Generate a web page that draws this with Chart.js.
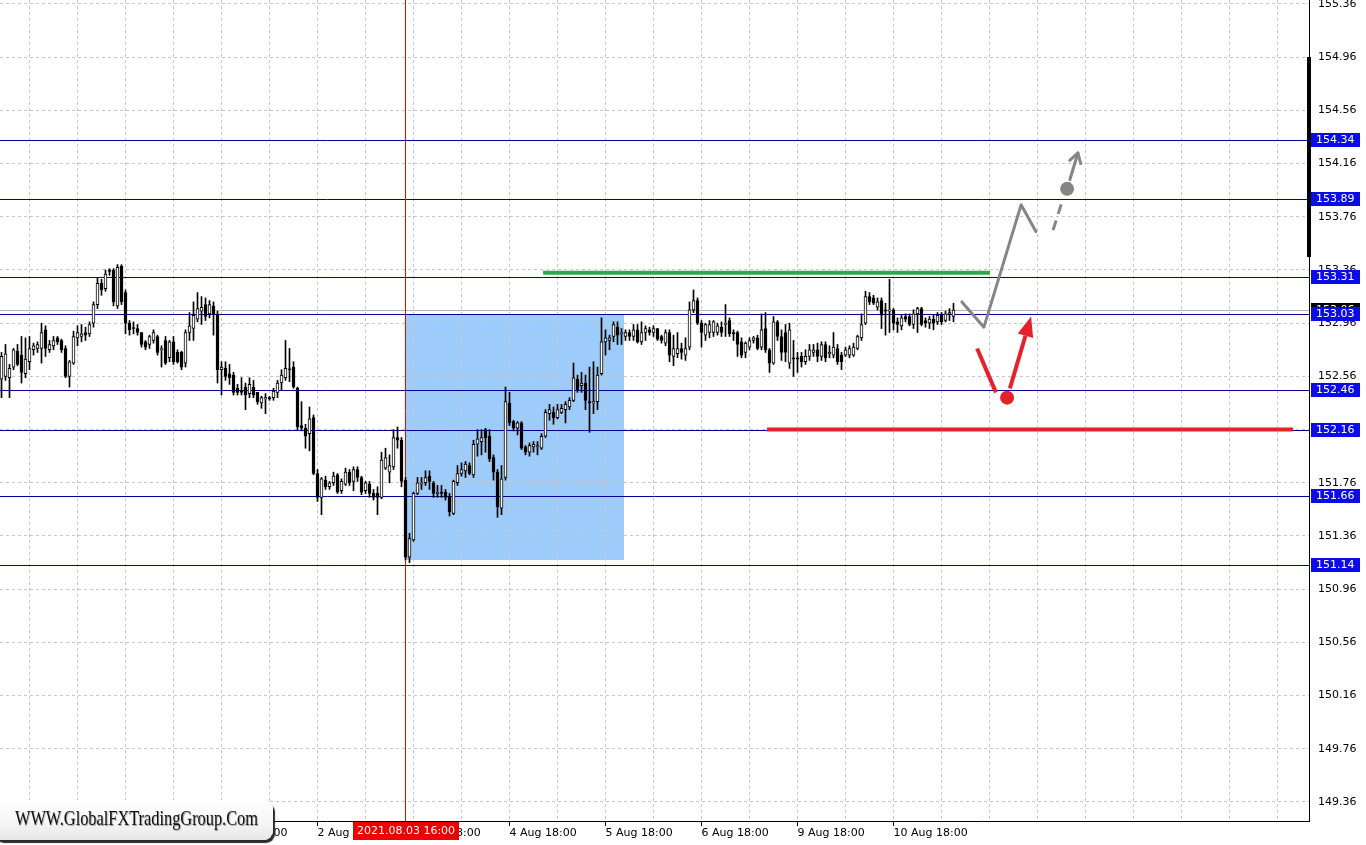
<!DOCTYPE html>
<html>
<head>
<meta charset="utf-8">
<script src="https://cdn.jsdelivr.net/npm/chart.js@4.4.1/dist/chart.umd.min.js"></script>
<style>
html,body{margin:0;padding:0;background:#fff;overflow:hidden}
#wrap{position:relative;width:1366px;height:845px}
#c{display:block}
#wm{position:absolute;left:-7px;top:800px;width:280px;height:40px;border-radius:9px;
 background:linear-gradient(to bottom,#ffffff 0%,#f7f7f7 55%,#e6e6e6 100%);
 box-shadow:2px 3px 1px #2a2a2a;overflow:hidden}
#wmt{position:absolute;left:22px;top:5px;font-family:'Liberation Serif','DejaVu Serif',serif;font-size:21px;
 line-height:26px;color:#111;white-space:nowrap;transform-origin:0 50%;text-shadow:1px 1px 1px #9a9a9a}
</style>
</head>
<body>
<div id="wrap">
<canvas id="c" width="1366" height="845"></canvas>
<div id="wm"><span id="wmt">WWW.GlobalFXTradingGroup.Com</span></div>
</div>
<script>
// ---------- data (H1 candles) ----------
const opens = [152.54,152.56,152.55,152.63,152.75,152.72,152.58,152.67,152.76,152.77,152.77,152.91,152.76,152.79,152.85,152.83,152.77,152.56,152.66,152.85,
152.86,152.89,152.88,152.96,153.10,153.26,153.22,153.35,153.36,153.09,153.39,153.19,152.96,152.92,152.92,152.89,152.82,152.80,152.83,152.86,
152.76,152.83,152.70,152.82,152.74,152.74,152.66,152.89,152.92,152.99,153.05,153.10,153.03,153.09,153.03,152.61,152.62,152.58,152.57,152.47,
152.45,152.48,152.43,152.48,152.44,152.36,152.39,152.40,152.40,152.44,152.51,152.55,152.61,152.63,152.47,152.19,152.17,152.13,152.25,151.83,
151.65,151.78,151.73,151.76,151.82,151.70,151.75,151.84,151.77,151.86,151.80,151.70,151.75,151.68,151.68,151.65,151.87,151.84,151.88,152.10,
152.08,151.78,151.20,151.33,151.68,151.75,151.76,151.81,151.76,151.68,151.69,151.69,151.66,151.53,151.76,151.83,151.85,151.89,151.82,152.05,
152.07,152.16,152.11,151.95,151.84,151.57,151.80,152.36,152.22,152.17,152.21,152.03,151.99,152.03,152.03,152.02,152.11,152.28,152.29,152.25,
152.29,152.31,152.33,152.38,152.54,152.49,152.51,152.37,152.36,152.37,152.58,152.82,152.83,152.86,152.93,152.88,152.86,152.89,152.86,152.91,
152.82,152.89,152.91,152.89,152.92,152.86,152.81,152.89,152.71,152.73,152.77,152.72,152.78,153.06,153.13,152.96,152.87,152.89,152.89,152.89,
152.93,152.95,152.98,152.89,152.89,152.82,152.74,152.78,152.83,152.85,152.78,152.92,152.76,152.66,152.97,152.86,152.89,152.66,152.70,152.70,
152.71,152.67,152.71,152.74,152.76,152.71,152.80,152.73,152.72,152.77,152.72,152.72,152.72,152.72,152.77,152.85,152.96,153.16,153.15,153.08,
153.13,153.06,153.05,153.06,152.97,152.94,153.01,153.01,152.95,153.03,153.07,152.98,152.96,152.99,152.97,153.02,152.98,153.03,153.01];
const highs = [152.74,152.80,152.65,152.77,152.80,152.86,152.85,152.86,152.81,152.82,152.96,152.94,152.83,152.86,152.86,152.84,152.79,152.68,152.90,152.94,
152.95,152.93,152.97,153.12,153.30,153.29,153.36,153.37,153.37,153.40,153.40,153.21,152.98,152.97,152.95,152.89,152.83,152.87,152.91,152.87,
152.79,152.86,152.83,152.86,152.76,152.75,152.91,153.04,153.12,153.19,153.16,153.15,153.13,153.12,153.05,152.67,152.67,152.65,152.59,152.50,
152.55,152.51,152.55,152.53,152.44,152.41,152.43,152.41,152.47,152.53,152.61,152.83,152.77,152.67,152.48,152.37,152.20,152.33,152.27,151.86,
151.80,151.81,151.77,151.84,151.83,151.79,151.87,151.86,151.88,151.88,151.81,151.77,151.77,151.71,151.73,151.99,152.02,151.97,152.16,152.18,
152.10,151.80,151.38,151.69,151.80,151.80,151.85,151.85,151.77,151.74,151.74,151.71,151.68,151.78,151.89,151.91,151.92,151.91,152.08,152.16,
152.16,152.17,152.16,151.97,151.86,151.89,152.48,152.44,152.23,152.22,152.22,152.04,152.06,152.07,152.07,152.13,152.31,152.35,152.33,152.35,
152.35,152.37,152.40,152.66,152.57,152.59,152.57,152.63,152.67,152.63,153.00,152.91,152.87,152.97,152.97,152.92,152.91,152.91,152.95,152.95,
152.97,152.94,152.93,152.94,152.92,152.87,152.91,152.91,152.87,152.89,152.81,152.85,153.12,153.21,153.15,152.98,152.96,152.98,152.98,152.96,
152.97,153.10,153.00,152.91,152.90,152.85,152.82,152.85,152.86,152.87,153.03,153.04,152.77,153.01,152.98,152.91,152.95,152.96,152.83,152.74,
152.74,152.76,152.80,152.80,152.81,152.82,152.82,152.79,152.89,152.80,152.74,152.78,152.79,152.81,152.87,153.03,153.20,153.19,153.17,153.15,
153.15,153.11,153.29,153.07,153.00,153.02,153.03,153.03,153.06,153.08,153.08,153.00,153.01,153.02,153.04,153.04,153.05,153.07,153.11];
const lows = [152.40,152.53,152.40,152.61,152.64,152.51,152.55,152.61,152.72,152.74,152.66,152.71,152.74,152.76,152.80,152.74,152.55,152.48,152.65,152.79,
152.82,152.83,152.86,152.93,153.07,153.17,153.20,153.32,153.09,153.07,153.10,152.88,152.87,152.88,152.87,152.78,152.76,152.77,152.81,152.72,
152.63,152.65,152.67,152.65,152.66,152.61,152.63,152.83,152.83,152.97,152.95,152.98,153.00,152.87,152.51,152.42,152.53,152.50,152.42,152.42,
152.42,152.31,152.40,152.40,152.35,152.32,152.28,152.38,152.38,152.40,152.46,152.53,152.52,152.47,152.16,152.15,152.02,152.00,151.82,151.62,
151.52,151.71,151.71,151.74,151.68,151.68,151.74,151.74,151.70,151.77,151.67,151.68,151.65,151.63,151.52,151.64,151.86,151.76,151.86,152.02,
151.73,151.18,151.16,151.32,151.67,151.71,151.74,151.71,151.65,151.65,151.65,151.63,151.51,151.52,151.74,151.81,151.80,151.82,151.80,151.96,
151.97,151.99,151.92,151.78,151.50,151.52,151.78,152.19,152.15,152.12,152.01,151.97,151.96,151.99,151.97,152.01,152.10,152.23,152.20,152.24,
152.28,152.21,152.31,152.37,152.44,152.44,152.31,152.14,152.28,152.31,152.57,152.72,152.76,152.82,152.80,152.80,152.83,152.83,152.83,152.81,
152.80,152.83,152.87,152.86,152.83,152.81,152.79,152.67,152.64,152.70,152.69,152.68,152.76,153.04,152.95,152.78,152.83,152.85,152.86,152.87,
152.86,152.86,152.86,152.83,152.71,152.70,152.70,152.76,152.81,152.76,152.76,152.74,152.59,152.65,152.83,152.68,152.67,152.62,152.56,152.59,
152.63,152.65,152.68,152.71,152.67,152.68,152.67,152.70,152.70,152.65,152.61,152.71,152.70,152.71,152.76,152.83,152.95,153.10,153.10,153.06,
152.92,152.87,152.89,152.91,152.89,152.91,152.97,152.94,152.92,152.89,152.94,152.93,152.92,152.91,152.95,152.95,152.97,152.98,152.97];
const closes = [152.71,152.73,152.62,152.76,152.65,152.59,152.69,152.77,152.79,152.80,152.89,152.77,152.80,152.83,152.82,152.76,152.56,152.67,152.86,152.89,
152.88,152.87,152.95,153.10,153.26,153.21,153.33,153.35,153.12,153.38,153.12,152.96,152.91,152.92,152.89,152.80,152.78,152.86,152.89,152.74,
152.77,152.66,152.82,152.67,152.67,152.63,152.89,152.94,153.02,153.07,153.08,153.01,153.10,153.03,152.61,152.63,152.56,152.55,152.44,152.44,
152.44,152.42,152.50,152.42,152.37,152.40,152.40,152.39,152.45,152.51,152.57,152.62,152.61,152.48,152.18,152.17,152.11,152.24,151.83,151.65,
151.79,151.73,151.76,151.81,151.69,151.77,151.84,151.76,151.86,151.80,151.69,151.76,151.68,151.65,151.65,151.93,151.95,151.89,152.10,152.08,
151.77,151.20,151.34,151.68,151.76,151.76,151.80,151.77,151.68,151.69,151.68,151.65,151.54,151.77,151.83,151.86,151.90,151.83,152.05,152.09,
152.10,152.10,151.94,151.84,151.58,151.79,152.37,152.21,152.17,152.21,152.02,151.99,152.04,152.05,152.04,152.11,152.29,152.31,152.25,152.31,
152.32,152.35,152.38,152.55,152.46,152.51,152.38,152.36,152.37,152.57,152.82,152.85,152.85,152.95,152.87,152.89,152.89,152.86,152.91,152.82,
152.89,152.92,152.89,152.92,152.84,152.83,152.89,152.72,152.77,152.77,152.74,152.77,153.06,153.13,152.96,152.89,152.95,152.95,152.97,152.94,
152.89,152.96,152.88,152.88,152.80,152.72,152.81,152.83,152.85,152.77,152.91,152.76,152.66,152.97,152.86,152.74,152.74,152.91,152.69,152.69,
152.67,152.71,152.76,152.76,152.71,152.80,152.70,152.74,152.78,152.67,152.67,152.76,152.77,152.78,152.86,152.95,153.16,153.12,153.11,153.12,
153.02,153.05,153.06,152.96,152.95,153.00,152.99,152.95,153.03,153.07,152.95,152.96,152.99,152.96,153.02,152.97,153.03,153.04,153.06];

// ---------- axes ----------
const yTickValues = [149.36,149.76,150.16,150.56,150.96,151.36,151.76,152.16,152.56,152.96,153.36,153.76,154.16,154.56,154.96,155.36];
const xTickIndex  = [7,31,55,79,103,127,151,175,199,223];
const xTickLabels = ['28 Jul 18:00','29 Jul 18:00','30 Jul 18:00','2 Aug 18:00','3 Aug 18:00','4 Aug 18:00','5 Aug 18:00','6 Aug 18:00','9 Aug 18:00','10 Aug 18:00'];

// ---------- chart objects (bar index / price) ----------
const levels = [154.34,153.89,153.31,153.03,152.46,152.16,151.66,151.14];
const bidPrice = 153.06;
const markedTimeIndex = 101;
const markedTimeLabel = '2021.08.03 16:00';
const zoneTime  = [101, 155.6];
const zonePrice = [153.03, 151.18];
const greenLineTime = [135.4, 247.1], greenLinePrice = 153.34;
const redLineTime   = [191.4, 322.9], redLinePrice   = 152.16;
const greyPathTime  = [240.1, 245.6, 254.9, 258.6];
const greyPathPrice = [153.12, 152.93, 153.85, 153.65];
const greyDashTime  = [262.9, 265.3], greyDashPrice = [153.66, 153.89];
const greyDot = [266.4, 153.97];
const greyArrowTime = [267.1, 269.1], greyArrowPrice = [154.04, 154.24];
const redPathTime  = [243.9, 248.6], redPathPrice = [152.77, 152.44];
const redDot = [251.4, 152.40];
const redArrowTime = [252.1, 257.4], redArrowPrice = [152.47, 153.01];

// ---------- build ----------
const bodies = opens.map((o,i)=>({x:i, y:[Math.min(o,closes[i]), Math.max(o,closes[i])]}));
const wicks  = highs.map((h,i)=>({x:i, y:[Math.min(lows[i],opens[i],closes[i]), Math.max(h,opens[i],closes[i])]}));
const bodyFill = opens.map((o,i)=> closes[i] > o ? '#ffffff' : '#000000');
const gridIdx = []; for (let v = 7; v <= 326; v += 12) gridIdx.push(v);

Chart.defaults.font.family = "'DejaVu Sans', sans-serif";
Chart.defaults.font.size = 11;
Chart.defaults.color = '#000';

const FONT = "11px 'DejaVu Sans', sans-serif";

const decor = {
  id: 'decor',
  beforeDraw(chart) {
    const {ctx, scales:{x, y}} = chart;
    ctx.save();
    ctx.fillStyle = '#fff';
    ctx.fillRect(0, 0, chart.width, chart.height);
    const x0 = Math.round(x.getPixelForValue(zoneTime[0])), x1 = Math.round(x.getPixelForValue(zoneTime[1]));
    const y0 = Math.round(y.getPixelForValue(zonePrice[0])), y1 = Math.round(y.getPixelForValue(zonePrice[1]));
    ctx.fillStyle = '#9dcbfa';
    ctx.fillRect(x0, y0, x1 - x0, y1 - y0);
    ctx.restore();
  },
  beforeDatasetsDraw(chart) {
    const {ctx, chartArea:a, scales:{x, y}} = chart;
    ctx.save();
    ctx.strokeStyle = '#b4b4b4'; ctx.lineWidth = 1;
    let yb = Math.round(y.getPixelForValue(bidPrice)) + 0.5;
    ctx.beginPath(); ctx.moveTo(a.left, yb); ctx.lineTo(a.right, yb); ctx.stroke();
    ctx.strokeStyle = '#000096';
    levels.forEach(p => {
      const yy = Math.round(y.getPixelForValue(p)) + 0.5;
      ctx.beginPath(); ctx.moveTo(a.left, yy); ctx.lineTo(a.right, yy); ctx.stroke();
    });
    ctx.strokeStyle = '#ff0000';
    const xv = Math.round(x.getPixelForValue(markedTimeIndex)) - 0.5;
    ctx.beginPath(); ctx.moveTo(xv, a.top); ctx.lineTo(xv, a.bottom); ctx.stroke();
    ctx.lineWidth = 4; ctx.lineCap = 'butt';
    ctx.strokeStyle = '#2ea84c';
    let yy = y.getPixelForValue(greenLinePrice);
    ctx.beginPath(); ctx.moveTo(x.getPixelForValue(greenLineTime[0]), yy); ctx.lineTo(x.getPixelForValue(greenLineTime[1]), yy); ctx.stroke();
    ctx.strokeStyle = '#e5222b';
    yy = y.getPixelForValue(redLinePrice);
    ctx.beginPath(); ctx.moveTo(x.getPixelForValue(redLineTime[0]), yy); ctx.lineTo(x.getPixelForValue(redLineTime[1]), yy); ctx.stroke();
    ctx.restore();
  },
  afterDatasetsDraw(chart) {
    const {ctx, scales:{x, y}} = chart;
    const P = (t, p) => [x.getPixelForValue(t), y.getPixelForValue(p)];
    ctx.save();
    ctx.lineCap = 'round'; ctx.lineJoin = 'round';
    ctx.strokeStyle = '#858585'; ctx.fillStyle = '#858585'; ctx.lineWidth = 3;
    ctx.beginPath();
    greyPathTime.forEach((t,i) => { const [px,py] = P(t, greyPathPrice[i]); i ? ctx.lineTo(px,py) : ctx.moveTo(px,py); });
    ctx.stroke();
    ctx.setLineDash([10,7]); ctx.lineCap = 'butt';
    let a0 = P(greyDashTime[0], greyDashPrice[0]), a1 = P(greyDashTime[1], greyDashPrice[1]);
    ctx.beginPath(); ctx.moveTo(a0[0],a0[1]); ctx.lineTo(a1[0],a1[1]); ctx.stroke();
    ctx.setLineDash([]);
    let d = P(greyDot[0], greyDot[1]);
    ctx.beginPath(); ctx.arc(d[0], d[1], 7, 0, Math.PI*2); ctx.fill();
    let b0 = P(greyArrowTime[0], greyArrowPrice[0]), b1 = P(greyArrowTime[1], greyArrowPrice[1]);
    ctx.lineCap = 'round';
    ctx.beginPath(); ctx.moveTo(b0[0],b0[1]); ctx.lineTo(b1[0],b1[1]); ctx.stroke();
    let ang = Math.atan2(b1[1]-b0[1], b1[0]-b0[0]);
    ctx.beginPath();
    ctx.moveTo(b1[0]-11*Math.cos(ang-0.55), b1[1]-11*Math.sin(ang-0.55));
    ctx.lineTo(b1[0], b1[1]);
    ctx.lineTo(b1[0]-11*Math.cos(ang+0.55), b1[1]-11*Math.sin(ang+0.55));
    ctx.stroke();
    ctx.strokeStyle = '#e5222b'; ctx.fillStyle = '#e5222b'; ctx.lineWidth = 4; ctx.lineCap = 'butt';
    let r0 = P(redPathTime[0], redPathPrice[0]), r1 = P(redPathTime[1], redPathPrice[1]);
    ctx.beginPath(); ctx.moveTo(r0[0],r0[1]); ctx.lineTo(r1[0],r1[1]); ctx.stroke();
    d = P(redDot[0], redDot[1]);
    ctx.beginPath(); ctx.arc(d[0], d[1], 7, 0, Math.PI*2); ctx.fill();
    let s0 = P(redArrowTime[0], redArrowPrice[0]), s1 = P(redArrowTime[1], redArrowPrice[1]);
    ang = Math.atan2(s1[1]-s0[1], s1[0]-s0[0]);
    const hl = 20, hw = 8;
    const bx = s1[0]-hl*Math.cos(ang), by = s1[1]-hl*Math.sin(ang);
    ctx.beginPath(); ctx.moveTo(s0[0],s0[1]); ctx.lineTo(bx,by); ctx.stroke();
    ctx.beginPath();
    ctx.moveTo(s1[0], s1[1]);
    ctx.lineTo(bx + hw*Math.sin(ang), by - hw*Math.cos(ang));
    ctx.lineTo(bx - hw*Math.sin(ang), by + hw*Math.cos(ang));
    ctx.closePath(); ctx.fill();
    ctx.restore();
  },
  afterDraw(chart) {
    const {ctx, chartArea:a, scales:{x, y}} = chart;
    ctx.save();
    ctx.font = FONT; ctx.textBaseline = 'middle'; ctx.textAlign = 'left';
    ctx.fillStyle = '#000';
    ctx.fillRect(a.right - 2, 57, 4, 200);
    let yb = Math.round(y.getPixelForValue(bidPrice));
    ctx.fillStyle = '#000'; ctx.fillRect(a.right + 2, yb - 7, 49, 14);
    ctx.fillStyle = '#fff'; ctx.fillText(bidPrice.toFixed(2), a.right + 7, yb + 0.5);
    levels.forEach(p => {
      const yy = Math.round(y.getPixelForValue(p));
      ctx.fillStyle = '#0c0ce6'; ctx.fillRect(a.right + 2, yy - 7, 49, 14);
      ctx.fillStyle = '#fff'; ctx.fillText(p.toFixed(2), a.right + 7, yy + 0.5);
    });
    const xv = Math.round(x.getPixelForValue(markedTimeIndex));
    ctx.fillStyle = '#ee0000'; ctx.fillRect(xv - 53, a.bottom + 1, 106, 18);
    ctx.fillStyle = '#fff'; ctx.textAlign = 'center';
    ctx.fillText(markedTimeLabel, xv, a.bottom + 10.5);
    ctx.restore();
  }
};

new Chart(document.getElementById('c'), {
  type: 'bar',
  data: {
    datasets: [
      { label:'body', data: bodies, backgroundColor: bodyFill, borderColor:'#000', borderWidth:1,
        borderSkipped:false, barThickness:3, grouped:false, minBarLength:1, order:0 },
      { label:'wick', data: wicks, backgroundColor:'#000', borderWidth:0,
        barThickness:1, grouped:false, order:1 }
    ]
  },
  options: {
    responsive:false, animation:false, devicePixelRatio:1,
    layout:{padding:0},
    plugins:{legend:{display:false}, tooltip:{enabled:false}},
    scales: {
      x: {
        type:'linear', offset:false, min:-0.375, max:326.875,
        grid:{ offset:false, color:'#c6c6c6', lineWidth:1, tickLength:5,
               tickColor: c => xTickIndex.includes(c.tick && c.tick.value) ? '#000' : 'rgba(0,0,0,0)' },
        border:{ color:'#000', width:1, dash:[3,3] },
        afterBuildTicks: s => { s.ticks = gridIdx.map(v => ({value:v})); },
        ticks:{ autoSkip:false, maxRotation:0, minRotation:0, align:'start', padding:1, color:'#000',
                font:{size:11, family:"'DejaVu Sans', sans-serif"},
                callback: v => { const k = xTickIndex.indexOf(v); return k >= 0 ? xTickLabels[k] : ''; } },
        afterFit: s => { s.height = 24; s.paddingLeft = 0; s.paddingRight = 0; }
      },
      y: {
        type:'linear', position:'right', min:149.217, max:155.39, beginAtZero:false,
        grid:{ color:'#c6c6c6', lineWidth:1, tickLength:4, tickColor:'rgba(0,0,0,0)' },
        border:{ color:'#000', width:1, dash:[3,3] },
        afterBuildTicks: s => { s.ticks = yTickValues.map(v => ({value:v})); },
        ticks:{ autoSkip:false, padding:5, color:'#000', font:{size:11, family:"'DejaVu Sans', sans-serif"},
                callback: v => Number(v).toFixed(2) },
        afterFit: s => { s.width = 57; s.paddingTop = 0; s.paddingBottom = 0; }
      }
    }
  },
  plugins:[decor]
});

(function(){
  const t = document.getElementById('wmt');
  const w = t.getBoundingClientRect().width;
  t.style.transform = 'scaleX(' + (243 / w).toFixed(4) + ')';
})();
</script>
</body>
</html>
